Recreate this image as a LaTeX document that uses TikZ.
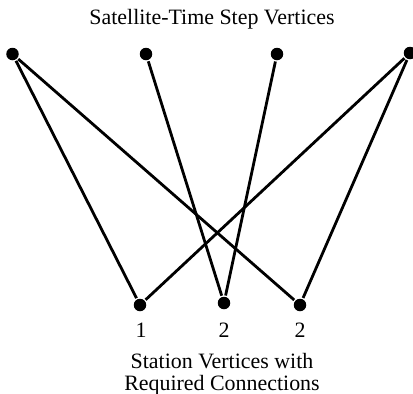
\documentclass[tikz,border=0pt]{standalone}
\usepackage{fontspec}
\setmainfont{Liberation Serif}

\begin{document}
\begin{tikzpicture}[x=1bp, y=-1bp, line width=2.8bp,
    vertex/.style={circle, fill, inner sep=0pt, minimum size=12.5bp},
    txt/.style={font=\fontsize{22}{22}\selectfont, inner sep=0pt}]
    \useasboundingbox (0,0) rectangle (413,394);
    % Satellite-time step vertices
    \node[vertex] (S1) at (12.5,54) {};
    \node[vertex] (S2) at (146,54) {};
    \node[vertex] (S3) at (277,54) {};
    \node[vertex] (S4) at (410,53) {};
    % Station vertices
    \node[vertex] (T1) at (140,305) {};
    \node[vertex] (T2) at (224,303) {};
    \node[vertex] (T3) at (300,305) {};
    \node[txt, anchor=base] (n1) at (141,337) {1};
    \node[txt, anchor=base] (n2) at (224,337) {2};
    \node[txt, anchor=base] (n3) at (300,337) {2};
    % Titles
    \node[txt, anchor=base] (top) at (212,24) {Satellite-Time Step Vertices};
    \node[txt, anchor=base, align=center] (bottom) at (222,390)
        {Station Vertices with\\Required Connections};
    % Edges
    \draw (S1) -- (T1);
    \draw (S1) -- (T3);
    \draw (S2) -- (T2);
    \draw (S3) -- (T2);
    \draw (S4) -- (T1);
    \draw (S4) -- (T3);
\end{tikzpicture}
\end{document}
